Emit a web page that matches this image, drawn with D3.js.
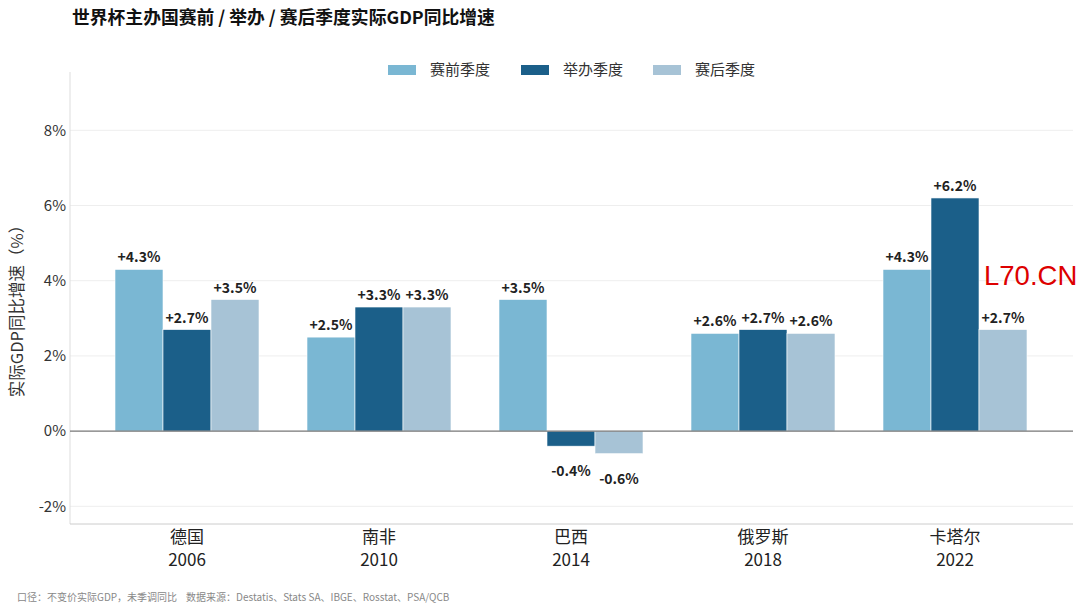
<!DOCTYPE html>
<html>
<head>
<meta charset="utf-8">
<script src="https://cdn.jsdelivr.net/npm/d3@7"></script>
<style>
  body { margin: 0; background: #fff; }
  svg text { font-family: "Noto Sans CJK SC", "Noto Sans", sans-serif; }
</style>
</head>
<body>
<svg class="chart"></svg>
<script>
// Data
var countries = ["德国", "南非", "巴西", "俄罗斯", "卡塔尔"];
var years = ["2006", "2010", "2014", "2018", "2022"];
var seriesNames = ["赛前季度", "举办季度", "赛后季度"];
var preValues = [4.3, 2.5, 3.5, 2.6, 4.3];
var holdValues = [2.7, 3.3, -0.4, 2.7, 6.2];
var postValues = [3.5, 3.3, -0.6, 2.6, 2.7];
var yTicks = [-2, 0, 2, 4, 6, 8];

var colors = ["#7ab7d3", "#1b5f89", "#a7c3d6"];

var w = 1080, h = 611;
var svg = d3.select(".chart").attr("width", w).attr("height", h);

var rows = countries.map(function(c, i) {
    return { country: c, year: years[i], values: [preValues[i], holdValues[i], postValues[i]] };
});

// Scales
var x0 = d3.scaleBand()
    .domain(countries)
    .range([91, 1051])
    .paddingInner(0.25)
    .paddingOuter(0.125);

var x1 = d3.scaleBand()
    .domain([0, 1, 2])
    .range([0, x0.bandwidth()]);

var y = d3.scaleLinear()
    .domain([-2.47, 9.55])
    .range([524, 72]);

var left = 70, right = 1073;

// Gridlines
svg.append("g")
    .selectAll("line")
    .data(yTicks.filter(function(d) { return d !== 0; }))
    .enter().append("line")
    .attr("x1", left).attr("x2", right)
    .attr("y1", function(d) { return y(d); })
    .attr("y2", function(d) { return y(d); })
    .attr("stroke", "#eeeeee")
    .attr("stroke-width", 1);

// Left / bottom spines
svg.append("line")
    .attr("x1", left).attr("x2", left)
    .attr("y1", 72).attr("y2", 524)
    .attr("stroke", "#dddddd");
svg.append("line")
    .attr("x1", left).attr("x2", right)
    .attr("y1", 524).attr("y2", 524)
    .attr("stroke", "#cccccc");

// Y tick labels
svg.append("g")
    .selectAll("text")
    .data(yTicks)
    .enter().append("text")
    .attr("x", left - 4)
    .attr("y", function(d) { return y(d); })
    .attr("dy", "0.35em")
    .attr("text-anchor", "end")
    .attr("font-size", "15px")
    .attr("fill", "#333")
    .text(function(d) { return d + "%"; });

// Y label
svg.append("text")
    .attr("transform", "translate(23," + y(3.3) + ") rotate(-90)")
    .attr("text-anchor", "middle")
    .attr("font-size", "16.5px")
    .attr("fill", "#333")
    .text("实际GDP同比增速（%）");

// Bars
var groups = svg.append("g")
    .selectAll("g")
    .data(rows)
    .enter().append("g")
    .attr("transform", function(d) { return "translate(" + x0(d.country) + ",0)"; });

groups.selectAll("rect")
    .data(function(d) { return d.values; })
    .enter().append("rect")
    .attr("x", function(d, i) { return x1(i); })
    .attr("width", x1.bandwidth())
    .attr("y", function(d) { return y(Math.max(0, d)); })
    .attr("height", function(d) { return Math.abs(y(d) - y(0)); })
    .attr("fill", function(d, i) { return colors[i]; })
    .attr("stroke", "#ffffff")
    .attr("stroke-width", 0.6);

groups.selectAll("text")
    .data(function(d) { return d.values; })
    .enter().append("text")
    .attr("x", function(d, i) { return x1(i) + x1.bandwidth() / 2; })
    .attr("y", function(d) { return d >= 0 ? y(d) - 7 : y(d) + 30; })
    .attr("text-anchor", "middle")
    .attr("font-size", "14px")
    .attr("font-weight", "bold")
    .attr("fill", "#222")
    .text(function(d) { return (d > 0 ? "+" : "") + d.toFixed(1) + "%"; });

// Zero line
svg.append("line")
    .attr("x1", left).attr("x2", right)
    .attr("y1", y(0)).attr("y2", y(0))
    .attr("stroke", "#777777")
    .attr("stroke-width", 1.3);

// Category labels
var cats = svg.append("g")
    .selectAll("text")
    .data(rows)
    .enter().append("text")
    .attr("x", function(d) { return x0(d.country) + x0.bandwidth() / 2; })
    .attr("text-anchor", "middle")
    .attr("font-size", "17px")
    .attr("fill", "#222");
cats.append("tspan")
    .attr("x", function(d) { return x0(d.country) + x0.bandwidth() / 2; })
    .attr("y", 543)
    .text(function(d) { return d.country; });
cats.append("tspan")
    .attr("x", function(d) { return x0(d.country) + x0.bandwidth() / 2; })
    .attr("y", 566)
    .text(function(d) { return d.year; });

// Legend
var legendX = [388, 521, 653];
var legend = svg.append("g")
    .selectAll("g")
    .data(seriesNames)
    .enter().append("g")
    .attr("transform", function(d, i) { return "translate(" + legendX[i] + ",70)"; });
legend.append("rect")
    .attr("x", 0).attr("y", -5)
    .attr("width", 28).attr("height", 10)
    .attr("fill", function(d, i) { return colors[i]; });
legend.append("text")
    .attr("x", 42)
    .attr("dy", "0.35em")
    .attr("font-size", "15px")
    .attr("fill", "#333")
    .text(function(d) { return d; });

// Title
svg.append("text")
    .attr("x", 72).attr("y", 24)
    .attr("font-size", "17.8px")
    .attr("font-weight", "bold")
    .attr("fill", "#111")
    .text("世界杯主办国赛前 / 举办 / 赛后季度实际GDP同比增速");

// Footer
svg.append("text")
    .attr("x", 17).attr("y", 601)
    .attr("font-size", "10px")
    .style("white-space", "pre")
    .attr("fill", "#888")
    .text("口径：不变价实际GDP，未季调同比    数据来源：Destatis、Stats SA、IBGE、Rosstat、PSA/QCB");

// Watermark
svg.append("text")
    .attr("x", 984).attr("y", 285)
    .style("font-family", "'Liberation Sans', Arial, sans-serif")
    .attr("font-size", "27.5px")
    .attr("fill", "#dd0000")
    .text("L70.CN");
</script>
</body>
</html>
